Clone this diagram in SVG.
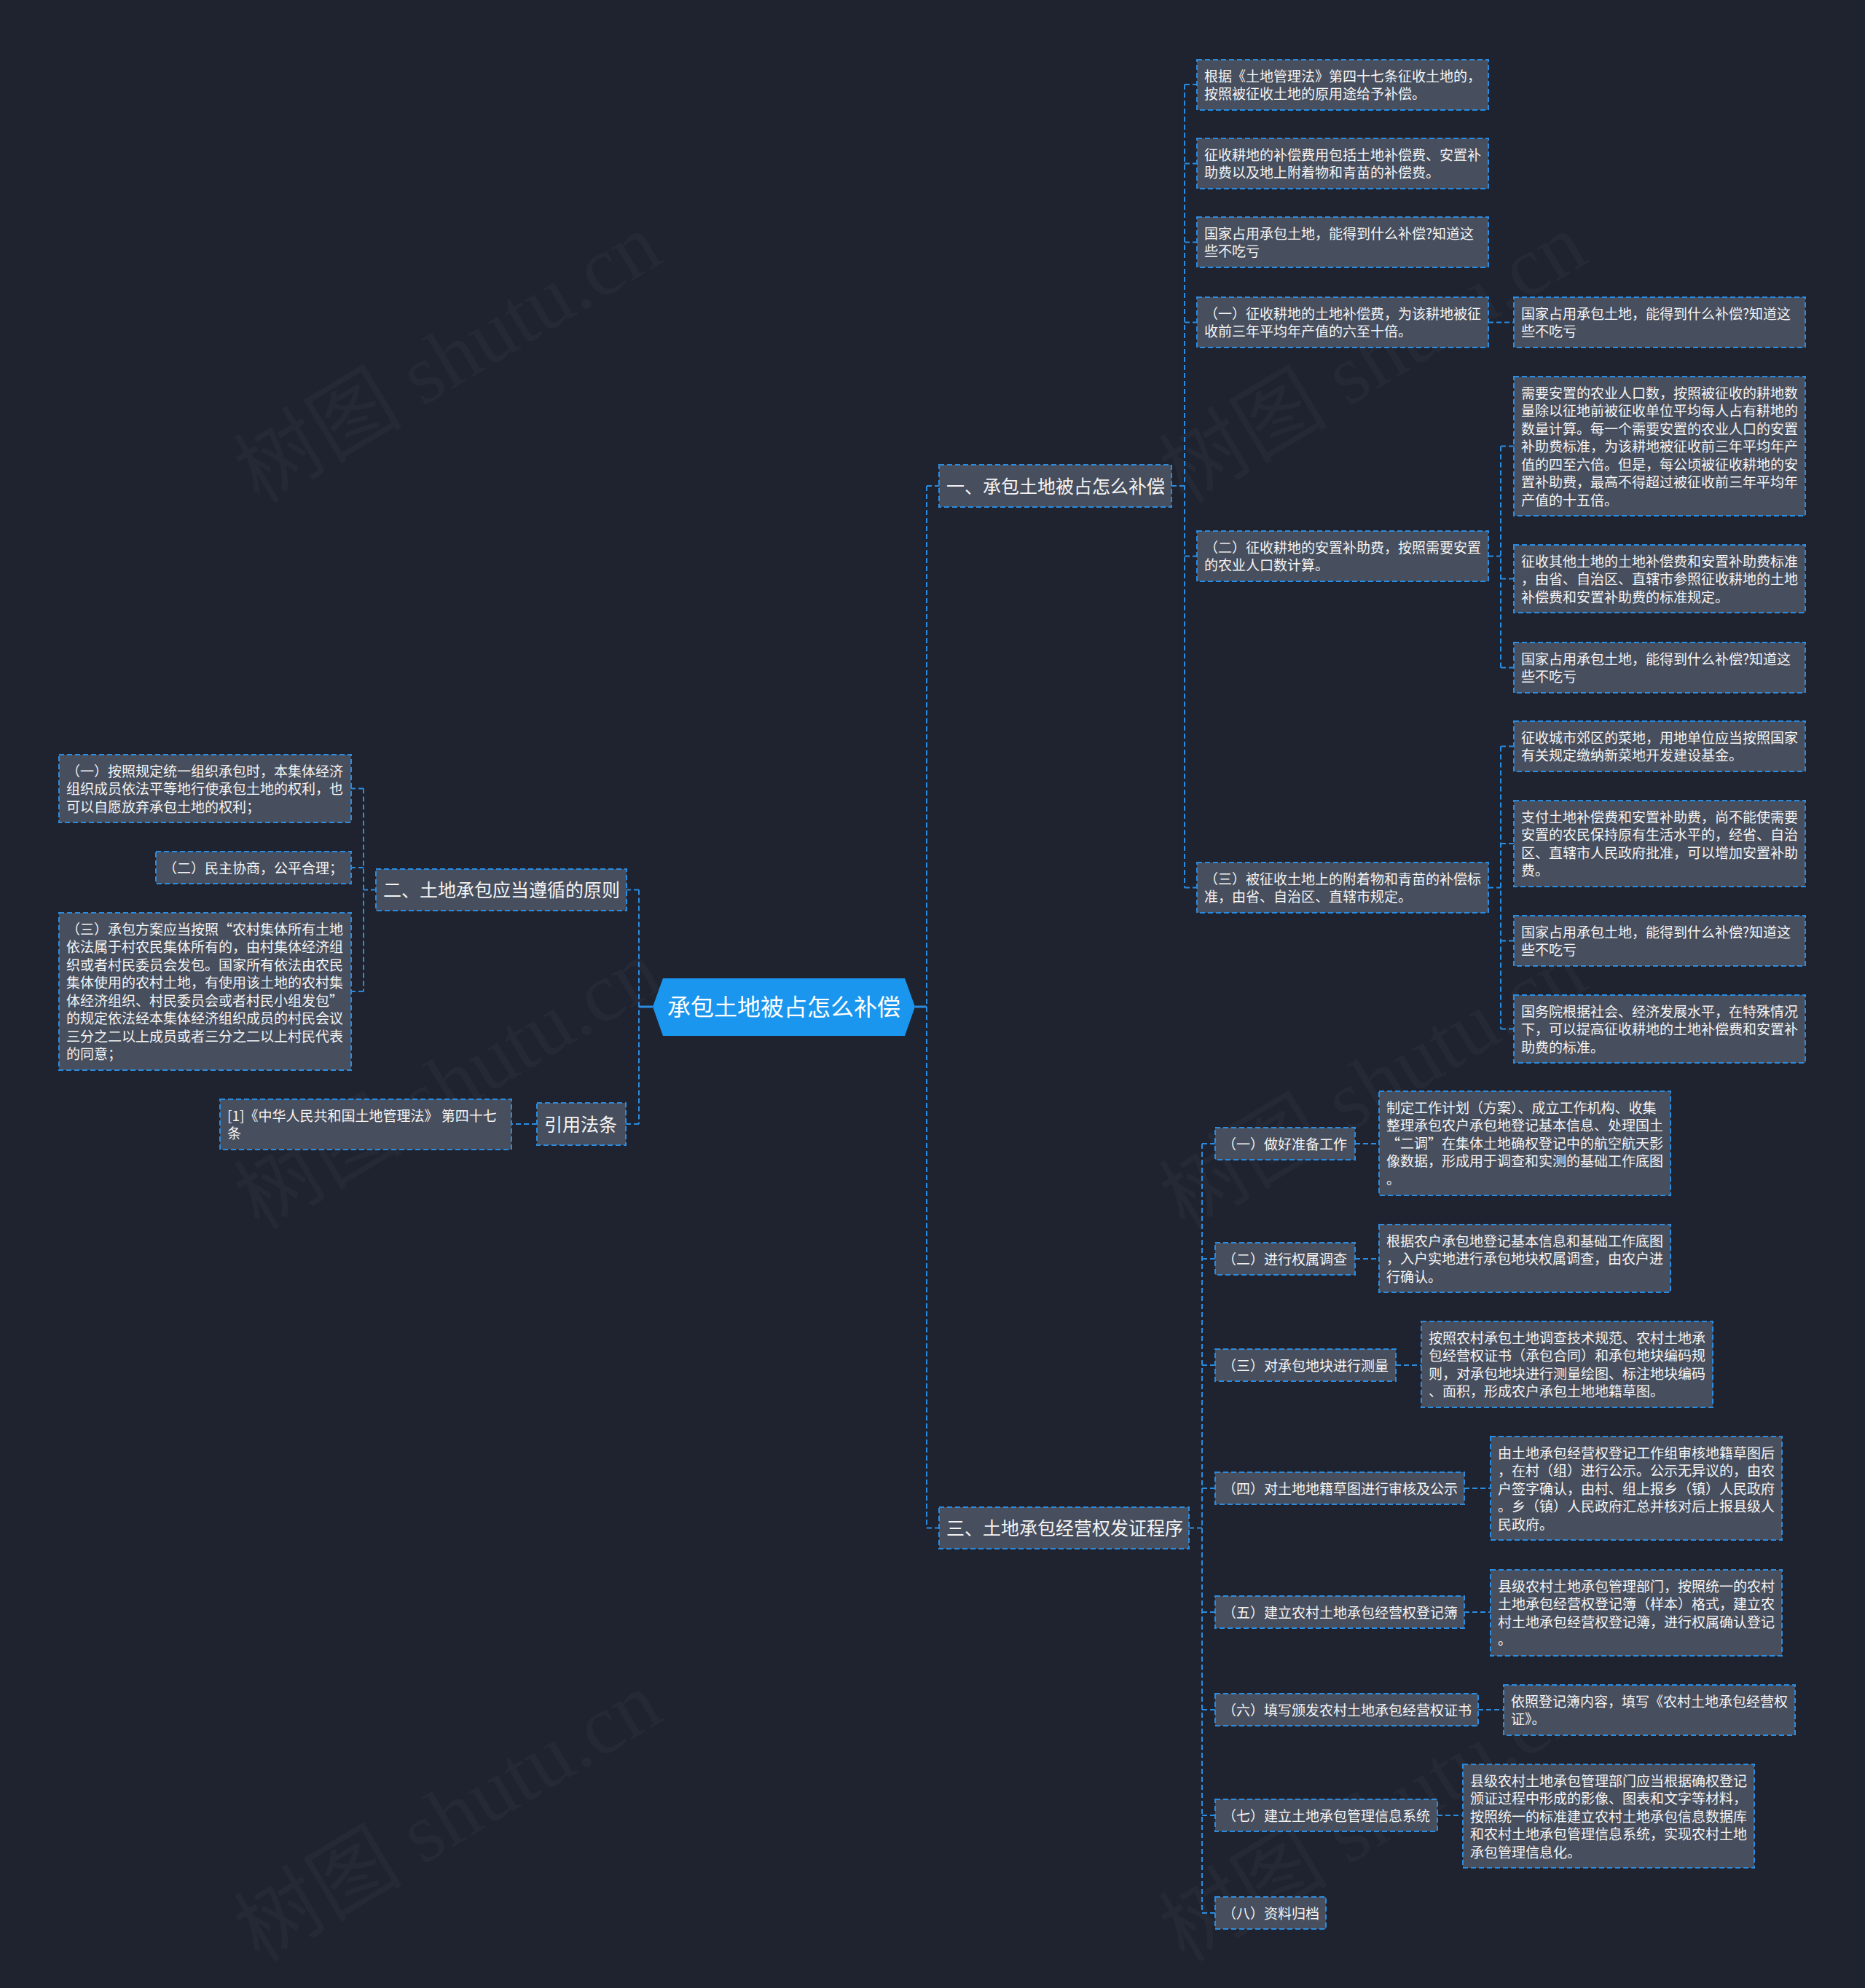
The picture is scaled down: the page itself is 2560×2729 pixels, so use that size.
<svg xmlns="http://www.w3.org/2000/svg" width="2560" height="2729" viewBox="0 0 2560 2729">
<style>
.bg{fill:#1f2330}
.wm{font-family:"Liberation Serif","Noto Sans CJK SC",serif;font-size:116px;fill:#ffffff;fill-opacity:0.028}
.n{fill:#474e5d;stroke:#2a8ce0;stroke-width:2;stroke-dasharray:7 4}
.c{fill:none;stroke:#2a8ce0;stroke-width:2;stroke-dasharray:7 4}
.cs{fill:none;stroke:#2a8ce0;stroke-width:3}
.t{font-family:"Noto Sans CJK SC","Noto Sans",sans-serif;font-size:19px;fill:#f4f4f4}
.t1{font-family:"Noto Sans CJK SC","Noto Sans",sans-serif;font-size:25px;fill:#f4f4f4}
.tr{font-family:"Noto Sans CJK SC","Noto Sans",sans-serif;font-size:32px;fill:#ffffff;text-anchor:middle}
</style>
<rect class="bg" x="0" y="0" width="2560" height="2729"/>
<g id="watermark">
<text class="wm" x="356" y="693" transform="rotate(-31 356 693)">树图 shutu.cn</text>
<text class="wm" x="1626" y="693" transform="rotate(-31 1626 693)">树图 shutu.cn</text>
<text class="wm" x="356" y="1690" transform="rotate(-31 356 1690)">树图 shutu.cn</text>
<text class="wm" x="1626" y="1690" transform="rotate(-31 1626 1690)">树图 shutu.cn</text>
<text class="wm" x="356" y="2695" transform="rotate(-31 356 2695)">树图 shutu.cn</text>
<text class="wm" x="1626" y="2695" transform="rotate(-31 1626 2695)">树图 shutu.cn</text>
</g>
<g id="connectors">
<path class="cs" d="M1256 1382H1272M896 1382H877"/>
<path class="c" d="M1272 667V2097.5M1272 667H1289M1272 2097.5H1289"/>
<path class="c" d="M1608 667H1626M1626 116V1218.5M1626 116H1643M1626 224.5H1643M1626 332.5H1643M1626 442.5H1643M1626 763.5H1643M1626 1218.5H1643"/>
<path class="c" d="M2043 442.5H2078"/>
<path class="c" d="M2043 763.5H2060M2060 612.5V916.5M2060 612.5H2078M2060 794.5H2078M2060 916.5H2078"/>
<path class="c" d="M2043 1218.5H2060M2060 1024.5V1412.5M2060 1024.5H2078M2060 1158H2078M2060 1291.5H2078M2060 1412.5H2078"/>
<path class="c" d="M1632 2097.5H1650M1650 1570V2626M1650 1570H1668M1650 1728H1668M1650 1874H1668M1650 2043H1668M1650 2213H1668M1650 2347H1668M1650 2492H1668M1650 2626H1668"/>
<path class="c" d="M1860 1570H1893M1860 1728H1893M1916 1874H1951M2010 2043H2046M2010 2213H2046M2029 2347H2064M1973 2492H2008"/>
<path class="c" d="M877 1221.5V1543M877 1221.5H860M877 1543H859"/>
<path class="c" d="M516 1221.5H499M499 1082.5V1361M499 1082.5H482M499 1191H482M499 1361H482"/>
<path class="c" d="M737 1543H702"/>
</g>
<g id="root">
<polygon points="896,1382 910,1343 1242,1343 1256,1382 1242,1422 910,1422" fill="#1a96ee"/>
<text class="tr" x="1076" y="1394">承包土地被占怎么补偿</text>
</g>
<g id="n1">
<rect class="n" x="1289" y="638" width="319" height="58"/>
<text class="t1" x="1299" y="676.5">一、承包土地被占怎么补偿</text>
</g>
<g id="n1-1">
<rect class="n" x="1643" y="82" width="400" height="69"/>
<text class="t" x="1653" y="111.5"><tspan x="1653">根据《土地管理法》第四十七条征收土地的，</tspan><tspan x="1653" dy="24.5">按照被征收土地的原用途给予补偿。</tspan></text>
</g>
<g id="n1-2">
<rect class="n" x="1643" y="190" width="400" height="69"/>
<text class="t" x="1653" y="219.5"><tspan x="1653">征收耕地的补偿费用包括土地补偿费、安置补</tspan><tspan x="1653" dy="24.5">助费以及地上附着物和青苗的补偿费。</tspan></text>
</g>
<g id="n1-3">
<rect class="n" x="1643" y="298" width="400" height="69"/>
<text class="t" x="1653" y="327.5"><tspan x="1653">国家占用承包土地，能得到什么补偿?知道这</tspan><tspan x="1653" dy="24.5">些不吃亏</tspan></text>
</g>
<g id="n1-4">
<rect class="n" x="1643" y="408" width="400" height="69"/>
<text class="t" x="1653" y="437.5"><tspan x="1653">（一）征收耕地的土地补偿费，为该耕地被征</tspan><tspan x="1653" dy="24.5">收前三年平均年产值的六至十倍。</tspan></text>
</g>
<g id="n1-4-1">
<rect class="n" x="2078" y="408" width="400" height="69"/>
<text class="t" x="2088" y="437.5"><tspan x="2088">国家占用承包土地，能得到什么补偿?知道这</tspan><tspan x="2088" dy="24.5">些不吃亏</tspan></text>
</g>
<g id="n1-5">
<rect class="n" x="1643" y="729" width="400" height="69"/>
<text class="t" x="1653" y="758.5"><tspan x="1653">（二）征收耕地的安置补助费，按照需要安置</tspan><tspan x="1653" dy="24.5">的农业人口数计算。</tspan></text>
</g>
<g id="n1-5-1">
<rect class="n" x="2078" y="517" width="400" height="191"/>
<text class="t" x="2088" y="546.5"><tspan x="2088">需要安置的农业人口数，按照被征收的耕地数</tspan><tspan x="2088" dy="24.5">量除以征地前被征收单位平均每人占有耕地的</tspan><tspan x="2088" dy="24.5">数量计算。每一个需要安置的农业人口的安置</tspan><tspan x="2088" dy="24.5">补助费标准，为该耕地被征收前三年平均年产</tspan><tspan x="2088" dy="24.5">值的四至六倍。但是，每公顷被征收耕地的安</tspan><tspan x="2088" dy="24.5">置补助费，最高不得超过被征收前三年平均年</tspan><tspan x="2088" dy="24.5">产值的十五倍。</tspan></text>
</g>
<g id="n1-5-2">
<rect class="n" x="2078" y="748" width="400" height="93"/>
<text class="t" x="2088" y="777.5"><tspan x="2088">征收其他土地的土地补偿费和安置补助费标准</tspan><tspan x="2088" dy="24.5">，由省、自治区、直辖市参照征收耕地的土地</tspan><tspan x="2088" dy="24.5">补偿费和安置补助费的标准规定。</tspan></text>
</g>
<g id="n1-5-3">
<rect class="n" x="2078" y="882" width="400" height="69"/>
<text class="t" x="2088" y="911.5"><tspan x="2088">国家占用承包土地，能得到什么补偿?知道这</tspan><tspan x="2088" dy="24.5">些不吃亏</tspan></text>
</g>
<g id="n1-6">
<rect class="n" x="1643" y="1184" width="400" height="69"/>
<text class="t" x="1653" y="1213.5"><tspan x="1653">（三）被征收土地上的附着物和青苗的补偿标</tspan><tspan x="1653" dy="24.5">准，由省、自治区、直辖市规定。</tspan></text>
</g>
<g id="n1-6-1">
<rect class="n" x="2078" y="990" width="400" height="69"/>
<text class="t" x="2088" y="1019.5"><tspan x="2088">征收城市郊区的菜地，用地单位应当按照国家</tspan><tspan x="2088" dy="24.5">有关规定缴纳新菜地开发建设基金。</tspan></text>
</g>
<g id="n1-6-2">
<rect class="n" x="2078" y="1099" width="400" height="118"/>
<text class="t" x="2088" y="1128.5"><tspan x="2088">支付土地补偿费和安置补助费，尚不能使需要</tspan><tspan x="2088" dy="24.5">安置的农民保持原有生活水平的，经省、自治</tspan><tspan x="2088" dy="24.5">区、直辖市人民政府批准，可以增加安置补助</tspan><tspan x="2088" dy="24.5">费。</tspan></text>
</g>
<g id="n1-6-3">
<rect class="n" x="2078" y="1257" width="400" height="69"/>
<text class="t" x="2088" y="1286.5"><tspan x="2088">国家占用承包土地，能得到什么补偿?知道这</tspan><tspan x="2088" dy="24.5">些不吃亏</tspan></text>
</g>
<g id="n1-6-4">
<rect class="n" x="2078" y="1366" width="400" height="93"/>
<text class="t" x="2088" y="1395.5"><tspan x="2088">国务院根据社会、经济发展水平，在特殊情况</tspan><tspan x="2088" dy="24.5">下，可以提高征收耕地的土地补偿费和安置补</tspan><tspan x="2088" dy="24.5">助费的标准。</tspan></text>
</g>
<g id="n3">
<rect class="n" x="1289" y="2069" width="343" height="57"/>
<text class="t1" x="1299" y="2107">三、土地承包经营权发证程序</text>
</g>
<g id="n3-1">
<rect class="n" x="1668" y="1548" width="192" height="44"/>
<text class="t" x="1678" y="1577.5">（一）做好准备工作</text>
</g>
<g id="n3-1-1">
<rect class="n" x="1893" y="1498" width="400" height="143"/>
<text class="t" x="1903" y="1527.5"><tspan x="1903">制定工作计划（方案）、成立工作机构、收集</tspan><tspan x="1903" dy="24.5">整理承包农户承包地登记基本信息、处理国土</tspan><tspan x="1903" dy="24.5">“二调”在集体土地确权登记中的航空航天影</tspan><tspan x="1903" dy="24.5">像数据，形成用于调查和实测的基础工作底图</tspan><tspan x="1903" dy="24.5">。</tspan></text>
</g>
<g id="n3-2">
<rect class="n" x="1668" y="1706" width="192" height="44"/>
<text class="t" x="1678" y="1735.5">（二）进行权属调查</text>
</g>
<g id="n3-2-1">
<rect class="n" x="1893" y="1681" width="400" height="93"/>
<text class="t" x="1903" y="1710.5"><tspan x="1903">根据农户承包地登记基本信息和基础工作底图</tspan><tspan x="1903" dy="24.5">，入户实地进行承包地块权属调查，由农户进</tspan><tspan x="1903" dy="24.5">行确认。</tspan></text>
</g>
<g id="n3-3">
<rect class="n" x="1668" y="1852" width="248" height="44"/>
<text class="t" x="1678" y="1881.5">（三）对承包地块进行测量</text>
</g>
<g id="n3-3-1">
<rect class="n" x="1951" y="1814" width="400" height="118"/>
<text class="t" x="1961" y="1843.5"><tspan x="1961">按照农村承包土地调查技术规范、农村土地承</tspan><tspan x="1961" dy="24.5">包经营权证书（承包合同）和承包地块编码规</tspan><tspan x="1961" dy="24.5">则，对承包地块进行测量绘图、标注地块编码</tspan><tspan x="1961" dy="24.5">、面积，形成农户承包土地地籍草图。</tspan></text>
</g>
<g id="n3-4">
<rect class="n" x="1668" y="2021" width="342" height="44"/>
<text class="t" x="1678" y="2050.5">（四）对土地地籍草图进行审核及公示</text>
</g>
<g id="n3-4-1">
<rect class="n" x="2046" y="1972" width="400" height="142"/>
<text class="t" x="2056" y="2001.5"><tspan x="2056">由土地承包经营权登记工作组审核地籍草图后</tspan><tspan x="2056" dy="24.5">，在村（组）进行公示。公示无异议的，由农</tspan><tspan x="2056" dy="24.5">户签字确认，由村、组上报乡（镇）人民政府</tspan><tspan x="2056" dy="24.5">。乡（镇）人民政府汇总并核对后上报县级人</tspan><tspan x="2056" dy="24.5">民政府。</tspan></text>
</g>
<g id="n3-5">
<rect class="n" x="1668" y="2191" width="342" height="44"/>
<text class="t" x="1678" y="2220.5">（五）建立农村土地承包经营权登记簿</text>
</g>
<g id="n3-5-1">
<rect class="n" x="2046" y="2155" width="400" height="118"/>
<text class="t" x="2056" y="2184.5"><tspan x="2056">县级农村土地承包管理部门，按照统一的农村</tspan><tspan x="2056" dy="24.5">土地承包经营权登记簿（样本）格式，建立农</tspan><tspan x="2056" dy="24.5">村土地承包经营权登记簿，进行权属确认登记</tspan><tspan x="2056" dy="24.5">。</tspan></text>
</g>
<g id="n3-6">
<rect class="n" x="1668" y="2325" width="361" height="44"/>
<text class="t" x="1678" y="2354.5">（六）填写颁发农村土地承包经营权证书</text>
</g>
<g id="n3-6-1">
<rect class="n" x="2064" y="2313" width="400" height="69"/>
<text class="t" x="2074" y="2342.5"><tspan x="2074">依照登记簿内容，填写《农村土地承包经营权</tspan><tspan x="2074" dy="24.5">证》。</tspan></text>
</g>
<g id="n3-7">
<rect class="n" x="1668" y="2470" width="305" height="44"/>
<text class="t" x="1678" y="2499.5">（七）建立土地承包管理信息系统</text>
</g>
<g id="n3-7-1">
<rect class="n" x="2008" y="2422" width="400" height="142"/>
<text class="t" x="2018" y="2451.5"><tspan x="2018">县级农村土地承包管理部门应当根据确权登记</tspan><tspan x="2018" dy="24.5">颁证过程中形成的影像、图表和文字等材料，</tspan><tspan x="2018" dy="24.5">按照统一的标准建立农村土地承包信息数据库</tspan><tspan x="2018" dy="24.5">和农村土地承包管理信息系统，实现农村土地</tspan><tspan x="2018" dy="24.5">承包管理信息化。</tspan></text>
</g>
<g id="n3-8">
<rect class="n" x="1668" y="2604" width="152" height="44"/>
<text class="t" x="1678" y="2633.5">（八）资料归档</text>
</g>
<g id="n2">
<rect class="n" x="516" y="1193" width="344" height="57"/>
<text class="t1" x="526" y="1231">二、土地承包应当遵循的原则</text>
</g>
<g id="n2-1">
<rect class="n" x="81" y="1036" width="401" height="93"/>
<text class="t" x="91" y="1065.5"><tspan x="91">（一）按照规定统一组织承包时，本集体经济</tspan><tspan x="91" dy="24.5">组织成员依法平等地行使承包土地的权利，也</tspan><tspan x="91" dy="24.5">可以自愿放弃承包土地的权利；</tspan></text>
</g>
<g id="n2-2">
<rect class="n" x="214" y="1169" width="268" height="44"/>
<text class="t" x="224" y="1198.5">（二）民主协商，公平合理；</text>
</g>
<g id="n2-3">
<rect class="n" x="81" y="1253" width="401" height="216"/>
<text class="t" x="91" y="1282.5"><tspan x="91">（三）承包方案应当按照“农村集体所有土地</tspan><tspan x="91" dy="24.5">依法属于村农民集体所有的，由村集体经济组</tspan><tspan x="91" dy="24.5">织或者村民委员会发包。国家所有依法由农民</tspan><tspan x="91" dy="24.5">集体使用的农村土地，有使用该土地的农村集</tspan><tspan x="91" dy="24.5">体经济组织、村民委员会或者村民小组发包”</tspan><tspan x="91" dy="24.5">的规定依法经本集体经济组织成员的村民会议</tspan><tspan x="91" dy="24.5">三分之二以上成员或者三分之二以上村民代表</tspan><tspan x="91" dy="24.5">的同意；</tspan></text>
</g>
<g id="n4">
<rect class="n" x="737" y="1514" width="122" height="58"/>
<text class="t1" x="747" y="1552.5">引用法条</text>
</g>
<g id="n4-1">
<rect class="n" x="302" y="1509" width="400" height="69"/>
<text class="t" x="312" y="1538.5"><tspan x="312">[1]《中华人民共和国土地管理法》 第四十七</tspan><tspan x="312" dy="24.5">条</tspan></text>
</g>
</svg>
